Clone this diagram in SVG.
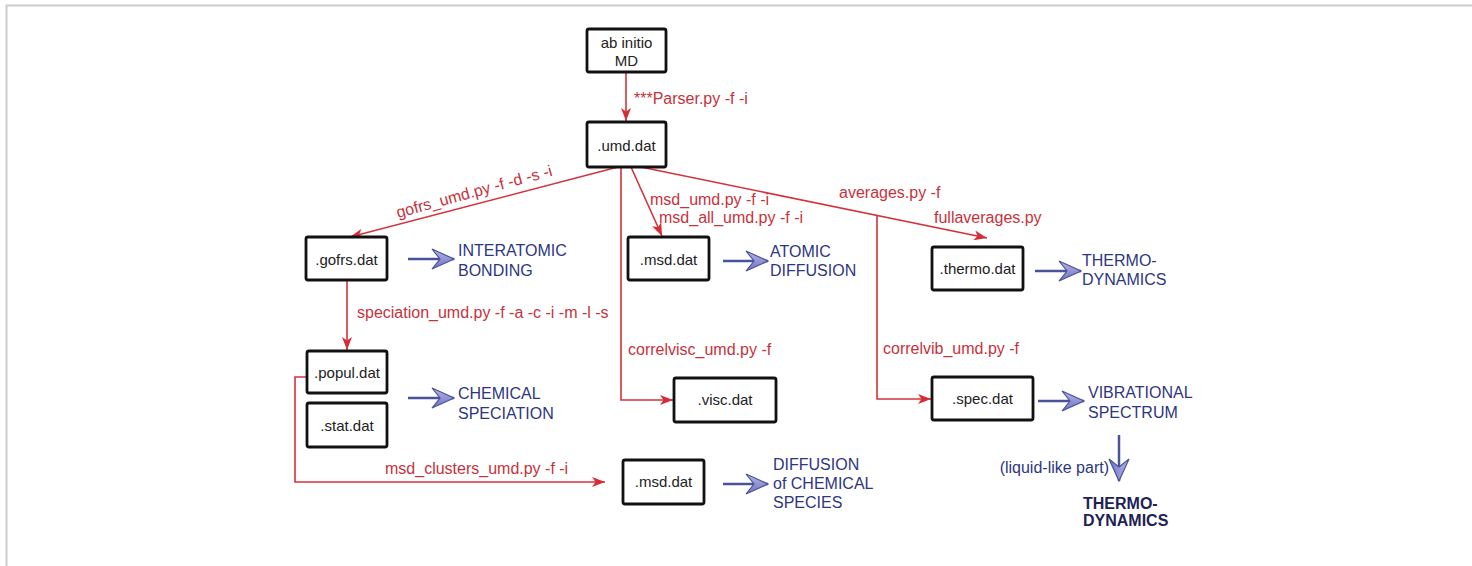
<svg xmlns="http://www.w3.org/2000/svg" width="1472" height="566" viewBox="0 0 1472 566">
<style>
.box{fill:#fff;stroke:#111;stroke-width:2.8}
.bt{font-family:"Liberation Sans",Arial,sans-serif;font-size:15px;fill:#222;text-anchor:middle}
.red{stroke:#d3333d;stroke-width:1.6;fill:none}
.rt{font-family:"Liberation Sans",Arial,sans-serif;font-size:16px;fill:#c8323b}
.blue{stroke:#4a529c;stroke-width:2.5;fill:none}
.bl{font-family:"Liberation Sans",Arial,sans-serif;font-size:16px;fill:#2e3681}
.bd{font-family:"Liberation Sans",Arial,sans-serif;font-size:16px;font-weight:bold;fill:#1d2256}
</style>
<defs>
<linearGradient id="bg" x1="0" y1="0" x2="0" y2="1">
<stop offset="0" stop-color="#b6b6e6"/>
<stop offset="1" stop-color="#6f73bf"/>
</linearGradient>
<marker id="ra" markerUnits="userSpaceOnUse" markerWidth="14" markerHeight="10" refX="13" refY="5" orient="auto" viewBox="0 0 14 10">
<path d="M0,0 L13,5 L0,10 L3.5,5 z" fill="#d92b36"/>
</marker>
<marker id="ba" markerUnits="userSpaceOnUse" markerWidth="24" markerHeight="22" refX="23" refY="11" orient="auto" viewBox="0 0 24 22">
<path d="M1,1 L23,11 L1,21 L9,11 z" fill="url(#bg)" stroke="#4a529c" stroke-width="1.2"/>
</marker>
</defs>
<rect width="1472" height="566" fill="#fff"/>
<path d="M6.5,566 L6.5,5.5 L1472,5.5" fill="none" stroke="#cccccc" stroke-width="2"/>

<g id="connectors">
<line class="red" x1="626" y1="72" x2="626" y2="121" marker-end="url(#ra)"/>
<line class="red" x1="618" y1="167" x2="350" y2="237" marker-end="url(#ra)"/>
<polyline class="red" points="621,167 621,400 673,400" marker-end="url(#ra)"/>
<line class="red" x1="631" y1="167" x2="662" y2="236" marker-end="url(#ra)"/>
<line class="red" x1="636" y1="166" x2="987" y2="238" marker-end="url(#ra)"/>
<polyline class="red" points="877,216 877,399 931,399" marker-end="url(#ra)"/>
<line class="red" x1="347" y1="280" x2="347" y2="350" marker-end="url(#ra)"/>
<polyline class="red" points="307,377 295,377 295,482 605,482" marker-end="url(#ra)"/>
<line class="blue" x1="408" y1="259" x2="454" y2="259" marker-end="url(#ba)"/>
<line class="blue" x1="723" y1="261" x2="768" y2="261" marker-end="url(#ba)"/>
<line class="blue" x1="1035" y1="271" x2="1081" y2="271" marker-end="url(#ba)"/>
<line class="blue" x1="408" y1="398" x2="454" y2="398" marker-end="url(#ba)"/>
<line class="blue" x1="1038" y1="401" x2="1084" y2="401" marker-end="url(#ba)"/>
<line class="blue" x1="723" y1="484" x2="768" y2="484" marker-end="url(#ba)"/>
<line class="blue" x1="1119" y1="435" x2="1119" y2="481" marker-end="url(#ba)"/>
<text class="rt" x="634" y="104">***Parser.py -f -i</text>
<text class="rt" transform="translate(398,218) rotate(-15.3)">gofrs_umd.py -f -d -s -i</text>
<text class="rt" x="650" y="205">msd_umd.py -f -i</text>
<text class="rt" x="659" y="223">msd_all_umd.py -f -i</text>
<text class="rt" x="839" y="198">averages.py -f</text>
<text class="rt" x="934" y="223">fullaverages.py</text>
<text class="rt" x="357" y="318">speciation_umd.py -f -a -c -i -m -l -s</text>
<text class="rt" x="628" y="355">correlvisc_umd.py -f</text>
<text class="rt" x="883" y="354">correlvib_umd.py -f</text>
<text class="rt" x="385" y="474">msd_clusters_umd.py -f -i</text>
</g>

<g id="abinitio"><rect class="box" x="587" y="29" width="79" height="43" rx="2"/><text class="bt" x="626.5" y="48">ab initio</text><text class="bt" x="626.5" y="66">MD</text></g>
<g id="umd"><rect class="box" x="587" y="122" width="79" height="45" rx="2"/><text class="bt" x="626.5" y="151">.umd.dat</text></g>
<g id="gofrs"><rect class="box" x="306" y="237" width="81" height="43" rx="2"/><text class="bt" x="346.5" y="265">.gofrs.dat</text></g>
<g id="msd1"><rect class="box" x="628" y="237" width="81" height="43" rx="2"/><text class="bt" x="668.5" y="265">.msd.dat</text></g>
<g id="thermo"><rect class="box" x="932" y="247" width="91" height="43" rx="2"/><text class="bt" x="977.5" y="274">.thermo.dat</text></g>
<g id="popul"><rect class="box" x="307" y="351" width="80" height="42" rx="2"/><text class="bt" x="347" y="378">.popul.dat</text></g>
<g id="stat"><rect class="box" x="307" y="403" width="80" height="44" rx="2"/><text class="bt" x="347" y="431">.stat.dat</text></g>
<g id="visc"><rect class="box" x="674" y="378" width="102" height="44" rx="2"/><text class="bt" x="725" y="405">.visc.dat</text></g>
<g id="spec"><rect class="box" x="932" y="377" width="101" height="43" rx="2"/><text class="bt" x="982.5" y="404">.spec.dat</text></g>
<g id="msd2"><rect class="box" x="623" y="460" width="81" height="44" rx="2"/><text class="bt" x="663.5" y="487">.msd.dat</text></g>

<g id="bonding"><text class="bl" x="458" y="256">INTERATOMIC</text><text class="bl" x="458" y="276">BONDING</text></g>
<g id="atomicdiff"><text class="bl" x="770" y="257">ATOMIC</text><text class="bl" x="770" y="276">DIFFUSION</text></g>
<g id="thermodyn1"><text class="bl" x="1082" y="266">THERMO-</text><text class="bl" x="1082" y="285">DYNAMICS</text></g>
<g id="speciation"><text class="bl" x="458" y="399">CHEMICAL</text><text class="bl" x="458" y="419">SPECIATION</text></g>
<g id="vib"><text class="bl" x="1088" y="398">VIBRATIONAL</text><text class="bl" x="1088" y="418">SPECTRUM</text></g>
<g id="diffchem"><text class="bl" x="773" y="470">DIFFUSION</text><text class="bl" x="773" y="489">of CHEMICAL</text><text class="bl" x="773" y="508">SPECIES</text></g>
<g id="liquid"><text class="bl" x="1109" y="473" text-anchor="end">(liquid-like part)</text></g>
<g id="thermodyn2"><text class="bd" x="1083" y="509">THERMO-</text><text class="bd" x="1083" y="526">DYNAMICS</text></g>
</svg>
